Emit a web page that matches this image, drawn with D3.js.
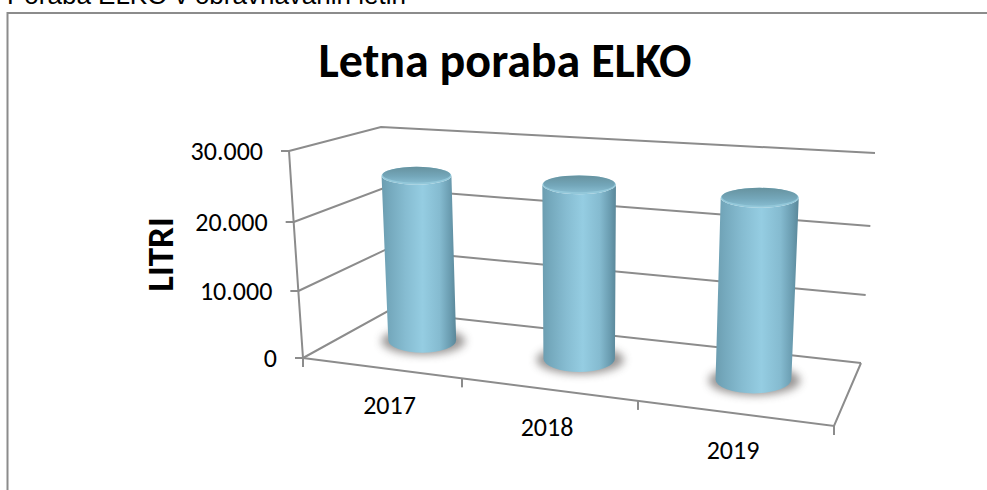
<!DOCTYPE html>
<html lang="sl">
<head>
<meta charset="utf-8">
<title>Letna poraba ELKO</title>
<script src="https://cdnjs.cloudflare.com/ajax/libs/d3/7.8.5/d3.min.js"></script>
<style>
  html, body { margin: 0; padding: 0; background: #fff; }
  svg { display: block; font-family: Carlito, Lato, "Open Sans", sans-serif; }
</style>
</head>
<body>
<svg id="chart" width="987" height="490" viewBox="0 0 987 490"></svg>
<script>
// Yearly heating-oil consumption, in litres
const years = ["2017", "2018", "2019"];
const litres = [24900, 25100, 24900];
const valueTicks = [0, 10000, 20000, 30000];
const pageHeading = "Poraba ELKO v obravnavanih letih";
const chartTitle = "Letna poraba ELKO";
const valueAxisTitle = "LITRI";

const svg = d3.select("#chart");
const grey = "#8c8c8c";
const fmt = v => d3.format(",")(v).replace(/,/g, ".");

// Perspective box: each edge of the 3D plot is a set of scales over the value axis
const valueDomain = [0, 30000];
const edge = {
  frontLeft:  { x: d3.scaleLinear(valueDomain, [303, 289]), y: d3.scaleLinear(valueTicks, [358, 291, 222, 151]) },
  backLeft:   { x: d3.scaleLinear(valueDomain, [388, 381]), y: d3.scaleLinear(valueDomain, [311, 127]) },
  backRight:  { x: d3.scaleLinear(valueDomain, [861, 875]), y: d3.scaleLinear(valueTicks, [363, 295, 226, 153]) },
  frontRight: { x: d3.scaleLinear(valueDomain, [834, 843]), y: d3.scaleLinear(valueDomain, [426, 180]) }
};

// Category position along the floor; bands widen towards the viewer's right
const bandShare = d3.scaleLinear([0, 1, 2, 3], [0, 0.2994, 0.6309, 1]);

// Map (category position, depth 0 = front .. 1 = back, value) to the page
function project(u, depth, value) {
  const t = bandShare(u);
  const frontX = d3.interpolateNumber(edge.frontLeft.x(value), edge.frontRight.x(value))(t);
  const frontY = d3.interpolateNumber(edge.frontLeft.y(value), edge.frontRight.y(value))(t);
  const backX = d3.interpolateNumber(edge.backLeft.x(value), edge.backRight.x(value))(t);
  const backY = d3.interpolateNumber(edge.backLeft.y(value), edge.backRight.y(value))(t);
  return [frontX + (backX - frontX) * depth, frontY + (backY - frontY) * depth];
}

const segment = (a, b) => d3.line()([a, b]);

// Heading above the chart frame and the frame itself
svg.append("text").attr("x", 7).attr("y", 4).attr("font-size", 26)
  .attr("font-family", "'Liberation Sans', Arial, sans-serif").attr("fill", "#000").text(pageHeading);
svg.append("path").attr("d", d3.line()([[7.5, 490], [7.5, 13], [987, 13]]))
  .attr("fill", "none").attr("stroke", grey).attr("stroke-width", 2);

svg.append("text").attr("x", 505).attr("y", 77).attr("text-anchor", "middle")
  .attr("font-size", 48).attr("font-weight", 700).attr("fill", "#000").text(chartTitle);

svg.append("text").attr("transform", "translate(173,254.5) rotate(-90)")
  .attr("text-anchor", "middle").attr("font-size", 37).attr("font-weight", 700)
  .attr("fill", "#000").text(valueAxisTitle);

// Walls, floor and gridlines
const frame = svg.append("g").attr("fill", "none").attr("stroke", grey).attr("stroke-width", 2);
valueTicks.forEach(v => {
  const a = project(0, 0, v), b = project(0, 1, v), c = project(3, 1, v);
  frame.append("path").attr("d", d3.line()([a, b, c]));
  frame.append("path").attr("d", segment([a[0] - 8, a[1]], a));
});
frame.append("path").attr("d", d3.line()(valueTicks.map(v => project(0, 0, v))));
frame.append("path").attr("d", d3.line()([project(0, 0, 0), project(3, 0, 0), project(3, 1, 0)]));
d3.range(0, 4).forEach(u => {
  const p = project(u, 0, 0);
  frame.append("path").attr("d", segment(p, [p[0], p[1] + 9]));
});

// Value labels
svg.append("g").selectAll("text").data(valueTicks).join("text")
  .attr("x", d => project(0, 0, d)[0] - 26)
  .attr("y", d => project(0, 0, d)[1] + 9)
  .attr("text-anchor", "end").attr("font-size", 26).attr("fill", "#000")
  .text(fmt);

// Year labels sit a fixed distance below the front edge of the floor
const labelNudge = [7, -3, -3];
svg.append("g").selectAll("text").data(years).join("text")
  .attr("x", (d, i) => project(i + 0.5, 0, 0)[0] + labelNudge[i])
  .attr("y", (d, i) => project(i + 0.5, 0, 0)[1] + 46)
  .attr("text-anchor", "middle").attr("font-size", 26).attr("fill", "#000")
  .text(d => d);

// Shared paints for the cylinders
const defs = svg.append("defs");
const body = defs.append("linearGradient").attr("id", "cylBody");
[[0, "#6c9db0"], [0.1, "#74a8bc"], [0.32, "#86bcd1"], [0.55, "#95cde2"], [0.78, "#85bbd0"], [0.92, "#6a9cb0"], [1, "#5a8799"]]
  .forEach(([o, c]) => body.append("stop").attr("offset", o).attr("stop-color", c));
const cap = defs.append("linearGradient").attr("id", "cylCap").attr("x1", 0).attr("x2", 0).attr("y1", 0).attr("y2", 1);
[[0, "#66929f"], [0.6, "#74a7ba"], [1, "#86bbcf"]]
  .forEach(([o, c]) => cap.append("stop").attr("offset", o).attr("stop-color", c));
defs.append("filter").attr("id", "soft").attr("x", "-30%").attr("y", "-60%").attr("width", "160%").attr("height", "220%")
  .append("feGaussianBlur").attr("stdDeviation", 4.5);

// Cylinder radius grows with the width of its band on the floor
const radius = d3.scaleLinear([150, 185], [34, 38]);
const depthAt = 0.56;
const bandCentre = 0.48;

const bars = svg.append("g").selectAll("g").data(litres).join("g");
bars.each(function (value, i) {
  const g = d3.select(this);
  const base = project(i + bandCentre, depthAt, 0);
  const top = project(i + bandCentre, depthAt, value);
  const band = project(i + 1, depthAt, 0)[0] - project(i, depthAt, 0)[0];
  const rx = radius(band), ry = rx * 0.37;
  const trx = rx * 1.03, try_ = trx * 0.255;

  g.append("ellipse").attr("cx", base[0] + 1).attr("cy", base[1] + 1)
    .attr("rx", rx + 8).attr("ry", ry + 1).attr("fill", "#5a5552").attr("opacity", 0.62)
    .attr("filter", "url(#soft)");

  const side = `M${top[0] - trx},${top[1]} L${base[0] - rx},${base[1]}`
    + ` A${rx},${ry} 0 0 0 ${base[0] + rx},${base[1]}`
    + ` L${top[0] + trx},${top[1]}`
    + ` A${trx},${try_} 0 0 1 ${top[0] - trx},${top[1]} Z`;
  g.append("path").attr("d", side).attr("fill", "url(#cylBody)");

  g.append("ellipse").attr("cx", top[0]).attr("cy", top[1]).attr("rx", trx).attr("ry", try_)
    .attr("fill", "#93c8da");
  g.append("ellipse").attr("cx", top[0]).attr("cy", top[1] - 1).attr("rx", trx - 1).attr("ry", try_ - 1)
    .attr("fill", "url(#cylCap)");
});
</script>
</body>
</html>
